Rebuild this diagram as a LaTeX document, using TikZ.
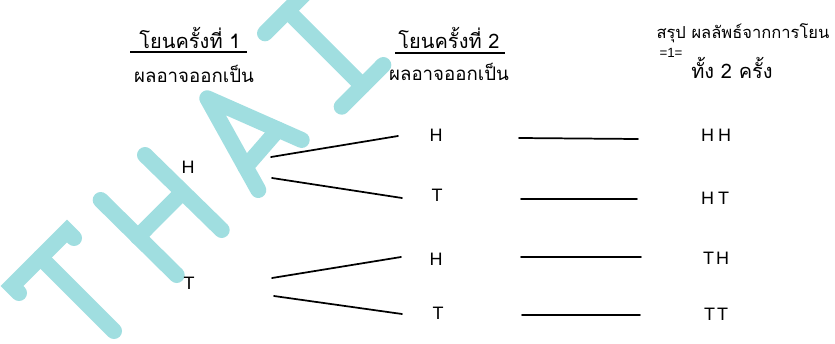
\documentclass[tikz,border=0pt]{standalone}
\usepackage{fontspec}
\setmainfont{Liberation Sans}
\newfontfamily\thaifont[Script=Thai]{Loma}
\usetikzlibrary{calc}
\definecolor{wmark}{RGB}{160,222,224}
\begin{document}
\begin{tikzpicture}[x=0.75pt,y=-0.75pt,
  wm/.style={draw=wmark, line width=12pt, line cap=round, line join=round},
  head/.style={font=\thaifont\fontsize{15}{18}\selectfont, inner sep=0pt},
  sub/.style={font=\thaifont\fontsize{14}{17}\selectfont, inner sep=0pt},
  coin/.style={font=\fontsize{13.5}{16}\selectfont, inner sep=0pt},
  branch/.style={line width=1.3pt, line cap=round},
  rule/.style={line width=1pt}]
\useasboundingbox (0,0) rectangle (835,343);

% watermark "THAI", set diagonally with rounded strokes
\begin{scope}
  \clip (0,0) rectangle (835,343);
  % T
  \draw[wm, line join=miter] (19,293) -- (12,286) -- (67,231) -- (74,238);
  \draw[wm] (40.5,257.5) -- (114,331);
  % H
  \draw[wm] (100.7,200) -- (176.7,275);
  \draw[wm] (145,155) -- (221.7,230);
  \draw[wm] (137.7,237) -- (182.3,192.3);
  % A
  \draw[wm, line join=round] (258.3,190) -- (207.3,98.3) -- (301.7,140);
  \draw[wm] (245.5,167) -- (278,129.6);
  % I
  \draw[wm] (265,33.3) -- (310,-11.7);
  \draw[wm] (287.5,10.8) -- (362.5,85.8);
  \draw[wm] (341.7,106.7) -- (383.3,65);
\end{scope}

% column headings
\node[head] (hd1) at (190,38) {โยนครั้งที่  1};
\draw[rule] (130,52) -- (247,52);
\node[sub] (sb1) at (194,74) {ผลอาจออกเป็น};
\node[head] (hd2) at (449,38) {โยนครั้งที่  2};
\draw[rule] (395,53) -- (505,53);
\node[sub] (sb2) at (449,72) {ผลอาจออกเป็น};
\node[font=\thaifont\fontsize{12.4}{15}\selectfont, inner sep=0pt] (hd3) at (743,33) {สรุป ผลลัพธ์จากการโยน};
\node[font=\fontsize{10}{12}\selectfont, inner sep=0pt] (mk) at (671,53) {=1=};
\node[head] (sb3) at (732,68) {ทั้ง  2  ครั้ง};

% first toss
\node[coin] (h1) at (188,167) {H};
\node[coin] (t1) at (189,283) {T};
% second toss
\node[coin] (h2a) at (436,135) {H};
\node[coin] (t2a) at (437,195) {T};
\node[coin] (h2b) at (436,259) {H};
\node[coin] (t2b) at (438,313) {T};
% outcomes
\node[coin] (hh) at (716,135) {H\hspace{3pt}H};
\node[coin] (ht) at (715,198) {H\hspace{3pt}T};
\node[coin] (th) at (716,258) {T\hspace{1.5pt}H};
\node[coin] (tt) at (716,314) {T\hspace{1.5pt}T};

% branches
\draw[branch] ($(h1)+(83,-10)$) -- ($(h2a)+(-38,1)$);
\draw[branch] ($(h1)+(84,11)$) -- ($(t2a)+(-35,3)$);
\draw[branch] ($(t1)+(83,-5)$) -- ($(h2b)+(-35,-2)$);
\draw[branch] ($(t1)+(85,13)$) -- ($(t2b)+(-36,1)$);
% links to outcomes
\draw[branch] ($(h2a)+(83,3)$) -- ($(hh)+(-78,4)$);
\draw[branch] ($(t2a)+(84,4)$) -- ($(ht)+(-78,1)$);
\draw[branch] ($(h2b)+(85,-2)$) -- ($(th)+(-75,-1)$);
\draw[branch] ($(t2b)+(84,2)$) -- ($(tt)+(-76,1)$);
\end{tikzpicture}
\end{document}
